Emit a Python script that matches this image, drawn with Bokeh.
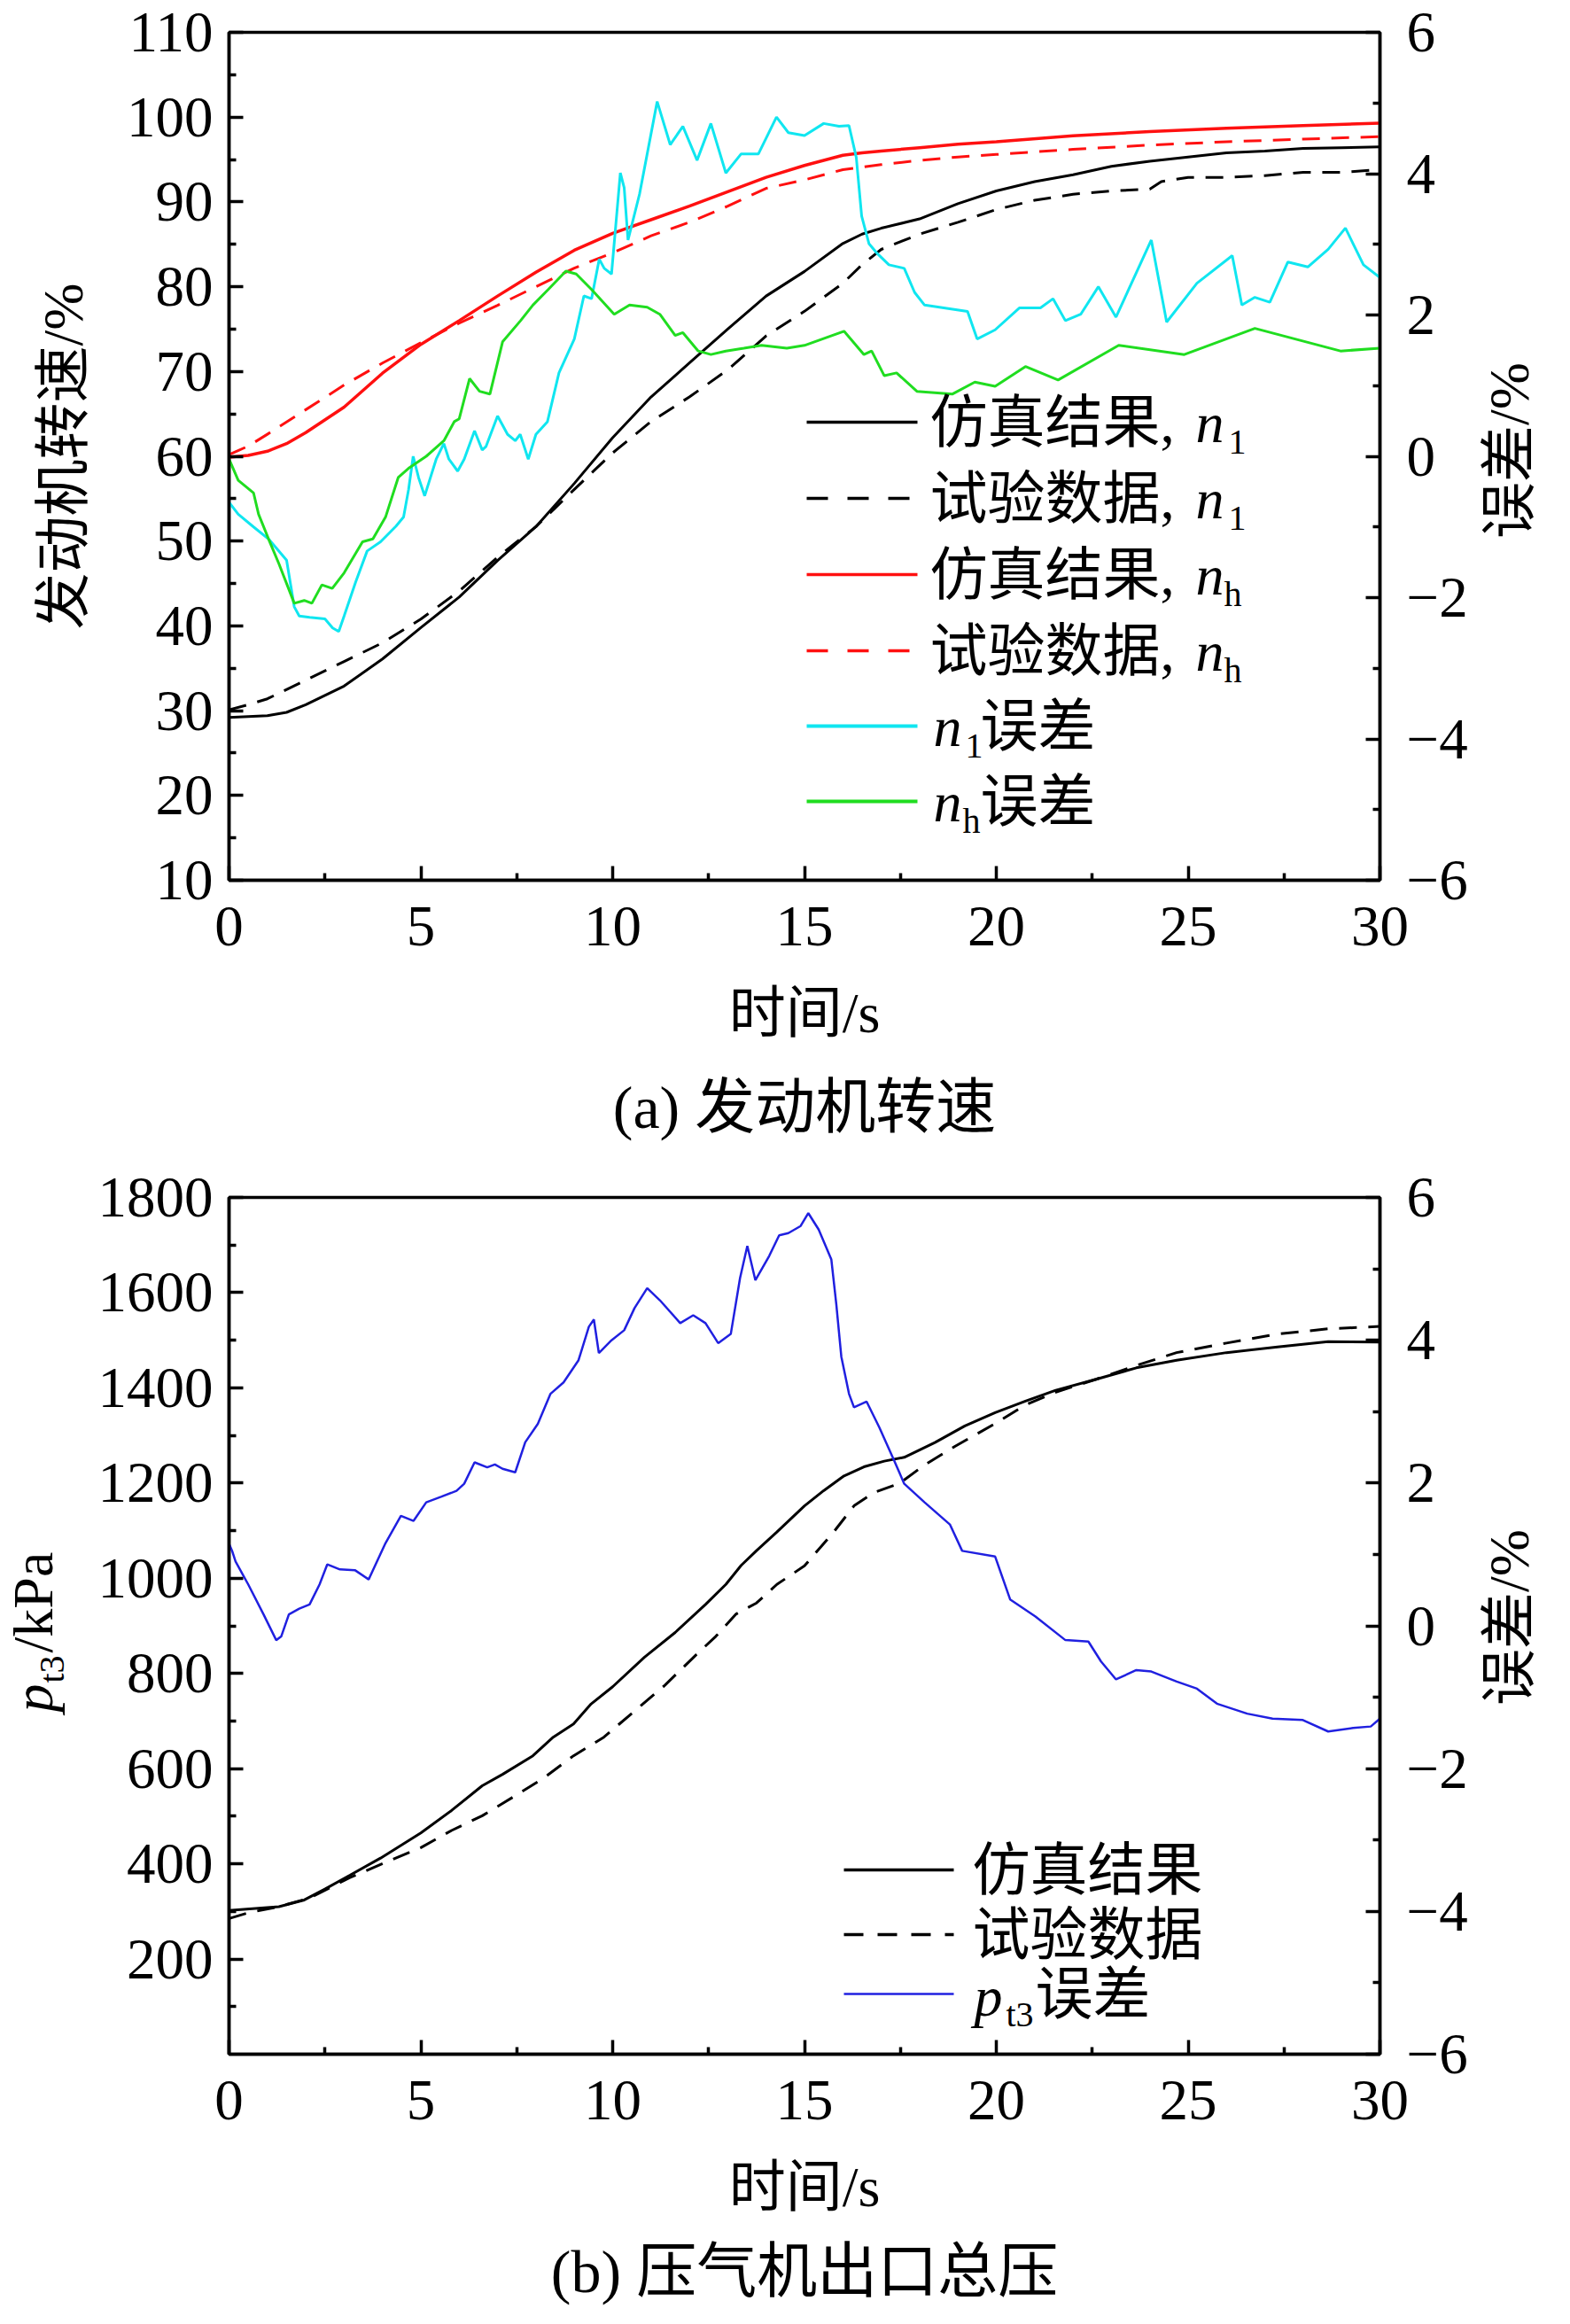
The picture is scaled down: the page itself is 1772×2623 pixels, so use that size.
import math
from bokeh.plotting import figure
from bokeh.models import (Range1d, LinearAxis, FixedTicker, LabelSet, Arrow, Title,
                          ColumnDataSource, CustomJSTickFormatter)
from bokeh.layouts import column, row
from bokeh.embed import file_html
from bokeh.resources import INLINE
from bokeh.core.properties import value

# ---------------- data: (a) engine speed ----------------
t_n1_sim = [0, 1, 1.5, 2, 3, 4, 5, 6, 7, 8, 9, 10, 11, 12, 13, 14, 15, 16, 16.5, 17,
            18, 19, 20, 21, 22, 23, 24, 25, 26, 27, 28, 29, 30]
n1_sim = [29.2, 29.4, 29.8, 30.7, 32.9, 36.1, 39.8, 43.4, 47.7, 51.7, 56.8, 62.2, 67.0,
          71.0, 75.0, 78.9, 81.8, 85.1, 86.2, 86.9, 88.0, 89.8, 91.3, 92.4, 93.2, 94.2,
          94.8, 95.3, 95.8, 96.0, 96.3, 96.4, 96.5]

t_n1_exp = [0, 0.5, 1, 2, 3, 4, 5, 6, 7, 8, 8.5, 9, 10, 11, 12, 13, 14, 15, 16, 16.5, 17,
            18, 19, 20, 21, 22, 23, 24, 24.3, 25, 26, 27, 28, 29, 30]
n1_exp = [30.1, 30.7, 31.4, 33.6, 35.8, 38.0, 40.8, 44.1, 48.1, 51.7, 53.9, 56.1, 60.4,
          64.1, 67.0, 70.2, 74.2, 77.1, 80.4, 82.6, 84.4, 86.2, 87.6, 89.1, 90.2, 90.9,
          91.3, 91.5, 92.4, 92.9, 92.9, 93.1, 93.5, 93.5, 93.8]

t_nh_sim = [0, 0.5, 1, 1.5, 2, 3, 4, 5, 6, 7, 8, 9, 10, 11, 12, 13, 14, 15, 16, 16.5, 17,
            18, 19, 20, 22, 24, 26, 28, 30]
nh_sim = [59.9, 60.1, 60.6, 61.5, 62.8, 65.8, 69.8, 73.2, 76.0, 78.9, 81.7, 84.3, 86.3,
          87.9, 89.5, 91.2, 92.9, 94.3, 95.5, 95.8, 96.0, 96.4, 96.8, 97.1, 97.8, 98.3,
          98.7, 99.0, 99.3]

t_nh_exp = [0, 0.5, 1, 2, 3, 4, 5, 6, 7, 8, 9, 10, 11, 12, 13, 14, 15, 16, 17, 18, 19,
            20, 22, 24, 26, 28, 30]
nh_exp = [60.2, 61.2, 62.6, 65.5, 68.4, 71.0, 73.4, 75.7, 77.8, 80.0, 82.2, 84.0, 86.0,
          87.6, 89.5, 91.6, 92.6, 93.8, 94.4, 94.9, 95.3, 95.6, 96.2, 96.7, 97.1, 97.4,
          97.7]

t_n1_err = [0, 0.24, 0.64, 1.03, 1.5, 1.7, 1.83, 2.1, 2.5, 2.7, 2.86, 3.0, 3.3, 3.6, 3.95,
            4.35, 4.55, 4.68, 4.8, 4.94, 5.1, 5.4, 5.6, 5.73, 5.96, 6.13, 6.4, 6.6, 6.7,
            7.0, 7.26, 7.46, 7.59, 7.8, 8.0, 8.3, 8.6, 9.0, 9.25, 9.45, 9.65, 9.78, 9.97,
            10.2, 10.3, 10.4, 10.7, 11.16, 11.5, 11.83, 12.2, 12.56, 12.95, 13.35, 13.8,
            14.27, 14.58, 15.0, 15.5, 15.9, 16.16, 16.35, 16.49, 16.68, 16.88, 17.2, 17.6,
            17.87, 18.13, 19.25, 19.5, 19.97, 20.6, 21.15, 21.48, 21.8, 22.2, 22.66, 23.12,
            24.04, 24.44, 25.23, 26.15, 26.4, 26.74, 27.13, 27.6, 28.12, 28.65, 29.1,
            29.57, 30.0]
n1_err = [-0.65, -0.82, -1.0, -1.17, -1.47, -2.13, -2.26, -2.28, -2.3, -2.43, -2.48, -2.26,
          -1.78, -1.34, -1.21, -0.99, -0.86, -0.47, 0.0, -0.3, -0.56, -0.04, 0.18, -0.04,
          -0.21, -0.04, 0.36, 0.09, 0.14, 0.57, 0.31, 0.22, 0.31, -0.04, 0.31, 0.49, 1.18,
          1.66, 2.27, 2.23, 2.79, 2.66, 2.58, 4.01, 3.8, 3.06, 3.71, 5.02, 4.41, 4.67, 4.19,
          4.71, 4.01, 4.28, 4.28, 4.8, 4.58, 4.54, 4.71, 4.67, 4.68, 4.23, 3.4, 3.01, 2.88,
          2.71, 2.66, 2.32, 2.14, 2.05, 1.66, 1.79, 2.1, 2.1, 2.23, 1.92, 2.01, 2.4, 1.97,
          3.06, 1.9, 2.45, 2.84, 2.14, 2.25, 2.18, 2.75, 2.68, 2.93, 3.23, 2.71, 2.53]

t_nh_err = [0, 0.24, 0.64, 0.77, 1.03, 1.3, 1.7, 1.96, 2.16, 2.42, 2.69, 3.0, 3.48, 3.75,
            4.08, 4.41, 4.68, 5.14, 5.6, 5.87, 6.0, 6.27, 6.53, 6.8, 7.13, 7.6, 7.92, 8.32,
            8.78, 9.05, 9.45, 10.04, 10.44, 10.9, 11.23, 11.63, 11.83, 12.23, 12.56, 12.95,
            13.42, 13.88, 14.54, 15.0, 16.03, 16.55, 16.75, 17.08, 17.4, 17.93, 18.85,
            19.44, 19.97, 20.76, 21.61, 23.19, 24.9, 26.74, 28.97, 30.0]
nh_err = [-0.04, -0.34, -0.52, -0.82, -1.17, -1.52, -2.08, -2.04, -2.08, -1.82, -1.87,
          -1.65, -1.21, -1.17, -0.86, -0.3, -0.17, 0.0, 0.22, 0.49, 0.53, 1.1, 0.92, 0.88,
          1.62, 1.92, 2.14, 2.36, 2.62, 2.58, 2.36, 2.01, 2.14, 2.11, 2.01, 1.71, 1.75,
          1.49, 1.44, 1.49, 1.53, 1.57, 1.53, 1.57, 1.77, 1.44, 1.49, 1.14, 1.18, 0.92,
          0.88, 1.05, 0.99, 1.27, 1.08, 1.57, 1.44, 1.81, 1.49, 1.53]

# ---------------- data: (b) compressor exit total pressure ----------------
t_p_sim = [0, 1.3, 1.96, 2.5, 3.15, 3.95, 5, 5.8, 6.6, 7.13, 7.92, 8.45, 8.98, 9.44, 10,
           10.83, 11.63, 12.42, 12.95, 13.35, 13.75, 14.28, 15, 15.5, 16.03, 16.55, 17.08,
           17.6, 18.4, 19.18, 19.97, 20.76, 21.55, 22.6, 23.65, 24.7, 26, 27.33, 28.65, 30]
p_sim = [302, 310, 324, 347, 376, 412, 465, 512, 564, 588, 627, 666, 694, 736, 772, 834,
         886, 945, 987, 1027, 1058, 1097, 1152, 1184, 1215, 1234, 1246, 1254, 1285, 1320,
         1348, 1372, 1395, 1418, 1442, 1458, 1474, 1486, 1497, 1496]

t_p_exp = [0, 0.5, 1.3, 2.1, 3.15, 4.2, 5, 5.8, 6.6, 7.4, 8.2, 8.98, 9.77, 10.57, 11.36,
           12.16, 12.69, 13.22, 13.75, 14.28, 15, 15.76, 16.29, 16.81, 17.47, 18.13, 18.92,
           19.97, 20.76, 21.55, 22.6, 23.65, 24.7, 26, 27.33, 28.65, 30]
p_exp = [285, 297, 310, 328, 371, 407, 434, 470, 501, 540, 580, 627, 666, 721, 775, 838,
         878, 925, 948, 987, 1026, 1097, 1152, 1180, 1199, 1238, 1277, 1325, 1364, 1391,
         1418, 1447, 1474, 1494, 1513, 1524, 1529]

t_p_err = [0, 0.08, 0.17, 0.5, 0.9, 1.23, 1.36, 1.56, 1.83, 2.1, 2.36, 2.56, 2.89, 3.28,
           3.64, 4.08, 4.48, 4.81, 5.14, 5.54, 5.93, 6.13, 6.4, 6.73, 6.93, 7.13, 7.46,
           7.72, 8.05, 8.38, 8.72, 9.11, 9.38, 9.51, 9.64, 9.97, 10.3, 10.57, 10.9, 11.23,
           11.76, 12.1, 12.42, 12.75, 13.08, 13.32, 13.51, 13.72, 14.08, 14.34, 14.58,
           14.9, 15.1, 15.37, 15.7, 15.83, 15.96, 16.16, 16.29, 16.62, 16.95, 17.34, 17.6,
           18.13, 18.79, 19.11, 19.97, 20.36, 21.02, 21.8, 22.4, 22.73, 23.12, 23.65,
           24.04, 24.7, 25.23, 25.75, 26.54, 27.2, 27.99, 28.65, 29.3, 29.76, 30.0]
p_err = [1.15, 1.05, 0.9, 0.58, 0.16, -0.2, -0.15, 0.16, 0.24, 0.3, 0.58, 0.86, 0.79, 0.78,
         0.65, 1.16, 1.54, 1.47, 1.73, 1.81, 1.89, 1.99, 2.29, 2.22, 2.26, 2.2, 2.15, 2.57,
         2.83, 3.25, 3.41, 3.72, 4.19, 4.29, 3.82, 4.0, 4.14, 4.45, 4.73, 4.56, 4.24, 4.35,
         4.24, 3.96, 4.09, 4.87, 5.32, 4.84, 5.18, 5.47, 5.5, 5.6, 5.78, 5.55, 5.13, 4.5,
         3.77, 3.25, 3.06, 3.14, 2.78, 2.31, 1.99, 1.73, 1.42, 1.05, 0.97, 0.37, 0.13,
         -0.2, -0.22, -0.5, -0.75, -0.62, -0.64, -0.78, -0.88, -1.09, -1.23, -1.3, -1.32,
         -1.48, -1.43, -1.41, -1.3]

# ---------------- ticks ----------------
x_ticks = [0, 5, 10, 15, 20, 25, 30]
x_minor = [2.5, 7.5, 12.5, 17.5, 22.5, 27.5]
n_ticks = [10, 20, 30, 40, 50, 60, 70, 80, 90, 100, 110]
n_minor = [15, 25, 35, 45, 55, 65, 75, 85, 95, 105]
p_ticks = [200, 400, 600, 800, 1000, 1200, 1400, 1600, 1800]
p_minor = [100, 300, 500, 700, 900, 1100, 1300, 1500, 1700]
err_ticks = [-6, -4, -2, 0, 2, 4, 6]
err_minor = [-5, -3, -1, 1, 3, 5]

SERIF = "Liberation Serif, Noto Sans CJK SC"
TICK_FONT = "Liberation Serif"
CYAN = "#10e6f0"
GREEN = "#20dd20"
BLUE = "#2020e0"
RED = "#ff1010"
UP = math.pi / 2

MINUS_FMT = CustomJSTickFormatter(
    code="return tick < 0 ? '\\u2212' + Math.abs(tick) : String(tick);")


def style_axis(ax, ticks, minor, standoff):
    ax.ticker = FixedTicker(ticks=ticks, minor_ticks=minor)
    ax.axis_line_width = 3.5
    ax.axis_line_color = "black"
    ax.major_tick_line_width = 3.5
    ax.minor_tick_line_width = 3.5
    ax.major_tick_line_color = "black"
    ax.minor_tick_line_color = "black"
    ax.major_tick_in = 16
    ax.major_tick_out = 0
    ax.minor_tick_in = 8
    ax.minor_tick_out = 0
    ax.major_label_text_font = TICK_FONT
    ax.major_label_text_font_size = "65px"
    ax.major_label_text_color = "black"
    ax.major_label_standoff = standoff
    ax.axis_label_text_font = SERIF
    ax.axis_label_text_font_size = "64px"
    ax.axis_label_text_font_style = "normal"
    ax.axis_label_text_color = "black"


def make_fig(y0, y1, ticks, minor, fh, bl, bt, bb, ylabel, caption, cap_standoff):
    p = figure(frame_width=1299, frame_height=fh, x_range=Range1d(0, 30),
               y_range=Range1d(y0, y1), output_backend="svg", toolbar_location=None,
               min_border_left=bl, min_border_right=110, min_border_top=bt,
               min_border_bottom=bb)
    p.extra_y_ranges = {"err": Range1d(-6, 6)}
    p.xgrid.visible = False
    p.ygrid.visible = False
    p.outline_line_color = "black"
    p.outline_line_width = 3.5
    p.outline_line_alpha = 1.0
    p.background_fill_color = "white"
    p.border_fill_color = "white"
    xa = p.xaxis[0]
    style_axis(xa, x_ticks, x_minor, 30)
    xa.axis_label = "时间/s"
    xa.axis_label_standoff = 38
    ya = p.yaxis[0]
    style_axis(ya, ticks, minor, 18)
    if ylabel:
        ya.axis_label = ylabel
        ya.axis_label_standoff = 33
    rax = LinearAxis(y_range_name="err", formatter=MINUS_FMT)
    style_axis(rax, err_ticks, err_minor, 30)
    p.add_layout(rax, "right")
    p.add_layout(Title(text=caption, align="center", text_font=SERIF,
                       text_font_size="68px", text_font_style="normal",
                       text_color="black", standoff=cap_standoff), "below")
    return p


def new_store():
    return dict(text=[], xo=[], yo=[], size=[], style=[], align=[], angle=[])


def put(st, sx, sy, text, size, italic=False, align="left", angle=0.0):
    st["text"].append(text)
    st["xo"].append(sx)
    st["yo"].append(sy)
    st["size"].append(f"{size}px")
    st["style"].append("italic" if italic else "normal")
    st["align"].append(align)
    st["angle"].append(angle)


def flush(p, st, y0):
    n = len(st["text"])
    data = dict(st)
    data["x"] = [0] * n
    data["y"] = [y0] * n
    p.add_layout(LabelSet(x="x", y="y", text="text", x_offset="xo", y_offset="yo",
                          angle="angle", text_font_size="size", text_font_style="style",
                          text_align="align", text_baseline="middle",
                          text_font=value(SERIF), text_color="black",
                          source=ColumnDataSource(data)))


def text_fig(width, height, st):
    # its frame is aligned by the row layout with the neighbouring plot's frame
    f = figure(width=width, height=height, x_range=Range1d(0, width),
               y_range=Range1d(0, 100), x_axis_location=None, y_axis_location=None,
               min_border=0, toolbar_location=None, output_backend="svg")
    f.outline_line_color = None
    f.xgrid.visible = False
    f.ygrid.visible = False
    f.background_fill_color = "white"
    f.border_fill_color = "white"
    flush(f, st, 0)
    return f


def swatch(p, x0, x1, y, color, width, dash="solid"):
    p.add_layout(Arrow(end=None, x_start=x0, y_start=y, x_end=x1, y_end=y,
                       start_units="screen", end_units="screen", line_color=color,
                       line_width=width, line_dash=dash))


# ================= (a) =================
H1 = 36 + 957 + 320
p1 = make_fig(10, 110, n_ticks, n_minor, 957, 258, 36, 320, "发动机转速/%",
              "(a) 发动机转速", 57)
p1.line(t_n1_sim, n1_sim, line_color="black", line_width=3)
p1.line(t_n1_exp, n1_exp, line_color="black", line_width=3, line_dash="20 13")
p1.line(t_nh_sim, nh_sim, line_color=RED, line_width=3.5)
p1.line(t_nh_exp, nh_exp, line_color=RED, line_width=3, line_dash="20 13")
p1.line(t_n1_err, n1_err, line_color=CYAN, line_width=3, y_range_name="err")
p1.line(t_nh_err, nh_err, line_color=GREEN, line_width=3, y_range_name="err")

s1 = new_store()
rows = [517, 431, 345, 259, 174, 89]
leg_styles = [("black", 3.5, "solid"), ("black", 3.5, "24 22"), (RED, 3.5, "solid"),
              (RED, 3.5, "24 22"), (CYAN, 4, "solid"), (GREEN, 4, "solid")]
for yy, (c, w, d) in zip(rows, leg_styles):
    swatch(p1, 652, 777, yy, c, w, d)
heads = ["仿真结果,", "试验数据,", "仿真结果,", "试验数据,"]
subs = ["1", "1", "h", "h"]
for yy, h, s in zip(rows[:4], heads, subs):
    put(s1, 791, yy, h, 65)
    put(s1, 1091, yy - 1, "n", 64, italic=True)
    put(s1, 1128 if s == "1" else 1123, yy - 22, s, 40)
for yy, s in zip(rows[4:], ["1", "h"]):
    put(s1, 795, yy - 1, "n", 64, italic=True)
    put(s1, 831 if s == "1" else 828, yy - 22, s, 40)
    put(s1, 848, yy, "误差", 65)
flush(p1, s1, 10)

r1s = new_store()
put(r1s, 36, 482, "误差/%", 64, align="center", angle=UP)
r1 = text_fig(89, H1, r1s)

# ================= (b) =================
H2 = 35 + 967 + 292
p2 = make_fig(0, 1800, p_ticks, p_minor, 967, 158, 35, 292, None,
              "(b) 压气机出口总压", 35)
p2.line(t_p_sim, p_sim, line_color="black", line_width=3)
p2.line(t_p_exp, p_exp, line_color="black", line_width=3, line_dash="20 13")
p2.line(t_p_err, p_err, line_color=BLUE, line_width=2.5, y_range_name="err")

s2 = new_store()
rows2 = [208, 135, 68]
swatch(p2, 694, 818, rows2[0], "black", 3.5)
swatch(p2, 694, 818, rows2[1], "black", 3.5, "22 16")
swatch(p2, 694, 818, rows2[2], BLUE, 2.5)
put(s2, 839, rows2[0], "仿真结果", 65)
put(s2, 839, rows2[1], "试验数据", 65)
put(s2, 841, rows2[2] - 3, "p", 64, italic=True)
put(s2, 877, rows2[2] - 23, "t3", 40)
put(s2, 910, rows2[2], "误差", 65)
flush(p2, s2, 0)

# y-axis title of (b): italic p with subscript t3
l2s = new_store()
put(l2s, 37, 377, "p", 64, italic=True, angle=UP)
put(l2s, 58, 410, "t3", 40, angle=UP)
put(l2s, 37, 444, "/kPa", 64, angle=UP)
l2 = text_fig(100, H2, l2s)

r2s = new_store()
put(r2s, 36, 484, "误差/%", 64, align="center", angle=UP)
r2 = text_fig(89, H2, r2s)

layout = column(row(p1, r1, spacing=0), row(l2, p2, r2, spacing=0), spacing=0)
open("out.html", "w").write(file_html(layout, INLINE))
